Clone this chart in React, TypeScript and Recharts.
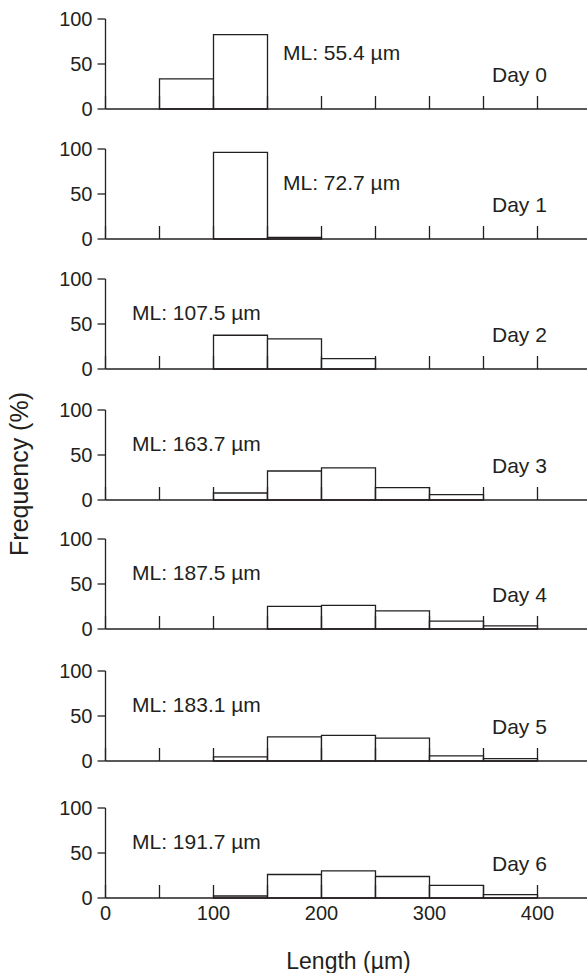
import { Bar, BarChart, XAxis, YAxis } from "recharts";

// Length classes (µm) and their lower bounds
const BINS = ["0-50", "50-100", "100-150", "150-200", "200-250", "250-300", "300-350", "350-400", "400-450"];
const BIN_START = [0, 50, 100, 150, 200, 250, 300, 350, 400];

const DAYS = ["Day 0", "Day 1", "Day 2", "Day 3", "Day 4", "Day 5", "Day 6"];
const MEAN_LENGTH = ["55.4", "72.7", "107.5", "163.7", "187.5", "183.1", "191.7"];

// Frequency (%) per length class
const DAY_0 = [0, 33.5, 82.7, 0, 0, 0, 0, 0, 0];
const DAY_1 = [0, 0, 96.3, 1.9, 0, 0, 0, 0, 0];
const DAY_2 = [0, 0, 37.5, 33.5, 11.5, 0, 0, 0, 0];
const DAY_3 = [0, 0, 7.8, 32.2, 35.6, 13.7, 5.9, 0, 0];
const DAY_4 = [0, 0, 0, 25.1, 26.2, 20.2, 8.7, 3.4, 0];
const DAY_5 = [0, 0, 4.5, 26.9, 28.4, 25.4, 5.6, 2.6, 0];
const DAY_6 = [0, 0, 2.2, 26.1, 30.1, 23.9, 14.0, 3.7, 0];
const FREQUENCIES = [DAY_0, DAY_1, DAY_2, DAY_3, DAY_4, DAY_5, DAY_6];

const X_TICKS = [0, 50, 100, 150, 200, 250, 300, 350, 400, 450];
const X_LABELS = [0, 100, 200, 300, 400];
const Y_TICKS = [0, 50, 100];

const INK = "#231f20";
const FONT = '"Liberation Sans", Arial, Helvetica, sans-serif';

// layout: top of each panel's plot area (page px), ML label left edge
const PANEL_TOP = [19, 149, 279, 410, 539, 671, 808];
const ML_LEFT = [283, 283, 132, 132, 132, 132, 132];
const PLOT_H = 90;
const PAD_TOP = 10;
const CHART_W = 600;
const AXIS_H = 1;

function LengthTick(props: any) {
  const { x, y, payload, showLabel } = props;
  return (
    <g>
      <line x1={x} x2={x} y1={y} y2={y - 13} stroke={INK} strokeWidth={1.3} />
      {showLabel && X_LABELS.includes(payload.value) && (
        <text x={x} y={y + 22} textAnchor="middle" fontSize={20} fill={INK} fontFamily={FONT}>
          {payload.value}
        </text>
      )}
    </g>
  );
}

function Panel({ index }: { index: number }) {
  const last = index === DAYS.length - 1;
  const rows = BINS.map((bin, i) => ({ bin, start: BIN_START[i], value: FREQUENCIES[index][i] }));
  const bottom = last ? 75 : 20;
  const height = PAD_TOP + PLOT_H + bottom;
  const axisY = PAD_TOP + PLOT_H;

  return (
    <div style={{ position: "absolute", left: 0, top: PANEL_TOP[index] - PAD_TOP }}>
      <BarChart
        width={CHART_W}
        height={height}
        data={rows}
        margin={{ top: PAD_TOP, right: 8.5, bottom: bottom - AXIS_H, left: 0 }}
        barCategoryGap={0}
        barGap={0}
      >
        <XAxis
          xAxisId="len"
          dataKey="start"
          type="number"
          domain={[0, 450]}
          ticks={X_TICKS}
          interval={0}
          allowDataOverflow
          height={AXIS_H}
          tickSize={0}
          tickMargin={0}
          tickLine={false}
          axisLine={{ stroke: INK, strokeWidth: 1.3 }}
          tick={<LengthTick showLabel={last} />}
        />
        <XAxis xAxisId="bin" dataKey="bin" orientation="top" height={0} hide />
        <YAxis
          type="number"
          domain={[0, 100]}
          ticks={Y_TICKS}
          interval={0}
          width={105.5}
          tickSize={8}
          tickMargin={5}
          axisLine={{ stroke: INK, strokeWidth: 1.3 }}
          tickLine={{ stroke: INK, strokeWidth: 1.3 }}
          tick={{ fontSize: 20, fill: INK, fontFamily: FONT }}
        />
        <Bar
          xAxisId="bin"
          dataKey="value"
          fill="#fff"
          stroke={INK}
          strokeWidth={1.3}
          isAnimationActive={false}
        />
        <text x={ML_LEFT[index]} y={axisY - 49} fontSize={21} fill={INK} fontFamily={FONT}>
          {`ML: ${MEAN_LENGTH[index]} µm`}
        </text>
        <text x={492} y={axisY - 27} fontSize={21} fill={INK} fontFamily={FONT}>
          {DAYS[index]}
        </text>
        {last && (
          <text x={348.5} y={axisY + 71} textAnchor="middle" fontSize={23} fill={INK} fontFamily={FONT}>
            Length (µm)
          </text>
        )}
      </BarChart>
    </div>
  );
}

export default function App() {
  return (
    <div
      style={{
        position: "absolute",
        left: 0,
        top: 0,
        width: 587,
        height: 973,
        overflow: "hidden",
        background: "#fff",
        fontFamily: FONT,
      }}
    >
      <svg width={40} height={973} style={{ position: "absolute", left: 0, top: 0 }}>
        <text
          x={0}
          y={0}
          transform="translate(28 474) rotate(-90)"
          textAnchor="middle"
          fontSize={25}
          fill={INK}
          fontFamily={FONT}
        >
          Frequency (%)
        </text>
      </svg>
      {DAYS.map((_, i) => (
        <Panel key={DAYS[i]} index={i} />
      ))}
    </div>
  );
}
